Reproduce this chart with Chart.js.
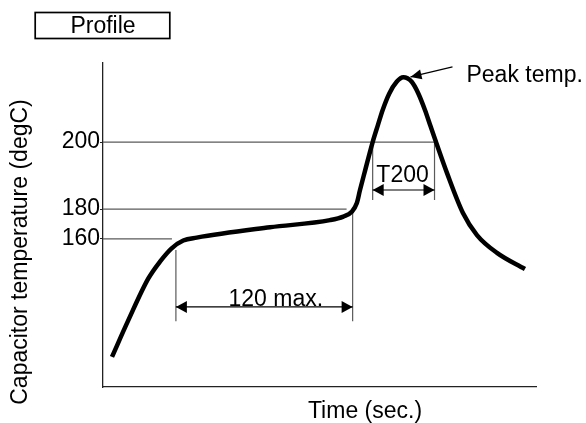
<!DOCTYPE html>
<html>
<head>
<meta charset="utf-8">
<title>Profile</title>
<script src="https://cdn.jsdelivr.net/npm/chart.js@4/dist/chart.umd.min.js"></script>
<style>
  html, body { margin: 0; padding: 0; background: #fff; }
</style>
</head>
<body>
<canvas id="profile" width="586" height="423"></canvas>
<script>
// schematic reflow profile: x in seconds, y in drawing levels (the axis is not to scale)
const timeSec = [6.1, 17.0, 30.8, 38.7, 46.6, 54.5, 63.6, 113.4, 154.1, 163.2, 168.9, 172.3, 174.5, 177.9,
  183.1, 186.7, 189.9, 194.4, 199.4, 203.9, 209.6, 214.1, 218.6, 222.3, 226.1, 233.6, 244.4, 253.9, 267.5, 286.5];
const tempLevel = [9.3, 20.4, 33.5, 38.7, 42.8, 45.2, 46.1, 49.3, 51.5, 52.6, 54.1, 56.7, 60.8, 66.7,
  75.6, 80.9, 85.5, 90.6, 94.2, 95.6, 94.2, 90.6, 85.5, 80.6, 75.6, 66.0, 53.7, 46.9, 41.4, 36.4];

const tickValues = [45.7, 54.9, 75.6];
const tickLabels = ['160', '180', '200'];
const refLineEnd = [46.8, 165.4, 225.1];

const soakSpan = [49.5, 169.5];
const soakGuideTop = [42.3, 54.3];
const soakGuideBottom = 20.3;
const soakArrowLevel = 24.7;

const t200Span = [183.1, 225.1];
const t200GuideBottom = 57.7;
const t200ArrowLevel = 60.8;

const peakArrowFrom = [237.3, 98.8];
const peakArrowTo = [208.8, 95.7];

const labelText = ['120 max.', 'T200', 'Peak temp.'];
const labelAt = [[117.3, 25.0], [203.4, 63.4], [246.8, 94.2]];

const FONT = '"Liberation Sans", Arial, sans-serif';
const GUIDE = '#5a5a5a';

const guideSets = [
  ...tickValues.map((v, i) => [{ x: 0, y: v }, { x: refLineEnd[i], y: v }]),
  ...soakSpan.map((t, i) => [{ x: t, y: soakGuideTop[i] }, { x: t, y: soakGuideBottom }]),
  ...t200Span.map((t) => [{ x: t, y: tickValues[2] }, { x: t, y: t200GuideBottom }]),
].map((pts) => ({
  data: pts,
  borderColor: GUIDE,
  borderWidth: 1.2,
  pointRadius: 0,
  tension: 0,
  order: 1,
}));

function head(ctx, tx, ty, ang, len, half) {
  ctx.save();
  ctx.translate(tx, ty);
  ctx.rotate(ang);
  ctx.beginPath();
  ctx.moveTo(0, 0);
  ctx.lineTo(-len, -half);
  ctx.lineTo(-len, half);
  ctx.closePath();
  ctx.fill();
  ctx.restore();
}

function dimArrow(ctx, x1, x2, y) {
  ctx.beginPath();
  ctx.moveTo(x1, y);
  ctx.lineTo(x2, y);
  ctx.stroke();
  head(ctx, x1, y, Math.PI, 11, 6);
  head(ctx, x2, y, 0, 11, 6);
}

const annotate = {
  id: 'annotate',
  afterDatasetsDraw(chart) {
    const { ctx, scales: { x, y } } = chart;
    ctx.save();
    ctx.strokeStyle = '#000';
    ctx.fillStyle = '#000';
    ctx.lineWidth = 1.2;

    dimArrow(ctx, x.getPixelForValue(soakSpan[0]), x.getPixelForValue(soakSpan[1]), y.getPixelForValue(soakArrowLevel));
    dimArrow(ctx, x.getPixelForValue(t200Span[0]), x.getPixelForValue(t200Span[1]), y.getPixelForValue(t200ArrowLevel));

    const fx = x.getPixelForValue(peakArrowFrom[0]), fy = y.getPixelForValue(peakArrowFrom[1]);
    const tx = x.getPixelForValue(peakArrowTo[0]), ty = y.getPixelForValue(peakArrowTo[1]);
    ctx.beginPath();
    ctx.moveTo(fx, fy);
    ctx.lineTo(tx, ty);
    ctx.stroke();
    head(ctx, tx, ty, Math.atan2(ty - fy, tx - fx), 11, 5);

    ctx.font = '23px ' + FONT;
    ctx.textBaseline = 'alphabetic';
    labelText.forEach((t, i) => {
      ctx.textAlign = i === 2 ? 'left' : 'center';
      ctx.fillText(t, x.getPixelForValue(labelAt[i][0]), y.getPixelForValue(labelAt[i][1]));
    });

    // axis titles
    ctx.textAlign = 'center';
    ctx.fillText('Time (sec.)', 365, 418);
    ctx.save();
    ctx.translate(27, 252);
    ctx.rotate(-Math.PI / 2);
    ctx.fillText('Capacitor temperature (degC)', 0, 0);
    ctx.restore();

    // boxed caption
    ctx.lineWidth = 1.7;
    ctx.strokeRect(35.2, 12.5, 134.6, 26);
    ctx.fillText('Profile', 103, 33);
    ctx.restore();
  },
};

new Chart(document.getElementById('profile'), {
  type: 'line',
  plugins: [annotate],
  data: {
    datasets: [
      {
        data: timeSec.map((t, i) => ({ x: t, y: tempLevel[i] })),
        borderColor: '#000',
        borderWidth: 4.5,
        borderCapStyle: 'butt',
        borderJoinStyle: 'round',
        pointRadius: 0,
        cubicInterpolationMode: 'monotone',
        order: 0,
      },
      ...guideSets,
    ],
  },
  options: {
    responsive: false,
    animation: false,
    devicePixelRatio: 1,
    layout: { padding: { top: 63, right: 50, left: 0, bottom: 0 } },
    plugins: { legend: { display: false }, tooltip: { enabled: false } },
    scales: {
      x: {
        type: 'linear',
        min: 0,
        max: 294,
        ticks: { display: false },
        grid: { drawOnChartArea: false, drawTicks: false },
        border: { color: '#222', width: 1.3 },
        afterFit: (s) => { s.height = 36; },
      },
      y: {
        type: 'linear',
        min: 0,
        max: 100,
        afterBuildTicks: (s) => { s.ticks = tickValues.map((v) => ({ value: v })); },
        ticks: {
          padding: 0,
          color: '#000',
          font: { family: FONT, size: 23 },
          callback: (v, i) => tickLabels[i],
        },
        grid: { drawOnChartArea: false, tickLength: 3, color: '#222' },
        border: { color: '#222', width: 1.3 },
        afterFit: (s) => { s.width = 103; },
      },
    },
  },
});
</script>
</body>
</html>
